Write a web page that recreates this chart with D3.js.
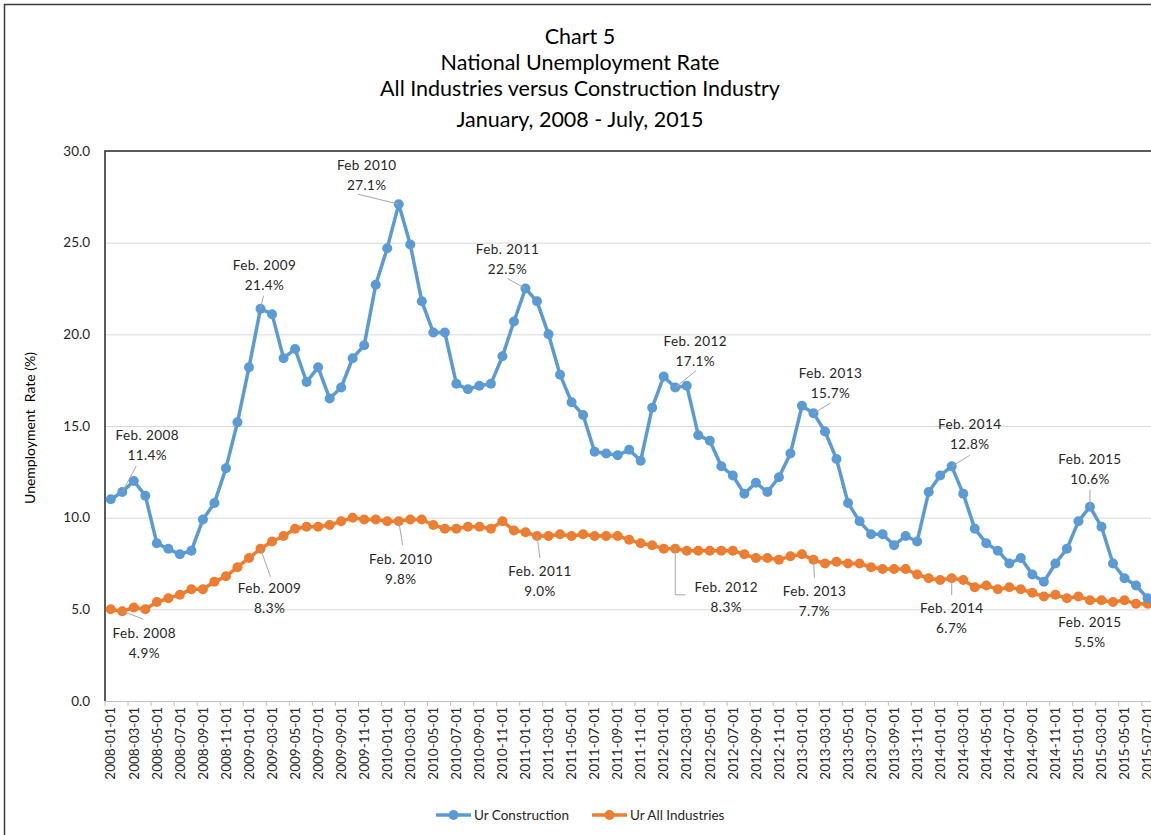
<!DOCTYPE html>
<html>
<head>
<meta charset="utf-8">
<script src="https://cdn.jsdelivr.net/npm/d3@7"></script>
<style>
  body { margin: 0; background: #fff; }
  svg { display: block; }
  text { font-family: Lato, "Open Sans", sans-serif; fill: #262626; }
</style>
</head>
<body>
<svg id="chart" width="1151" height="835"></svg>
<script>
// Monthly categories, January 2008 through July 2015
const months = d3.range(91).map(i => {
  const yr = 2008 + Math.floor(i / 12), mo = (i % 12) + 1;
  return `${yr}-${String(mo).padStart(2, "0")}-01`;
});

// Unemployment rate (%), construction industry
const construction = [
  11.0, 11.4, 12.0, 11.2, 8.6, 8.3, 8.0, 8.2, 9.9, 10.8, 12.7, 15.2,
  18.2, 21.4, 21.1, 18.7, 19.2, 17.4, 18.2, 16.5, 17.1, 18.7, 19.4, 22.7,
  24.7, 27.1, 24.9, 21.8, 20.1, 20.1, 17.3, 17.0, 17.2, 17.3, 18.8, 20.7,
  22.5, 21.8, 20.0, 17.8, 16.3, 15.6, 13.6, 13.5, 13.4, 13.7, 13.1, 16.0,
  17.7, 17.1, 17.2, 14.5, 14.2, 12.8, 12.3, 11.3, 11.9, 11.4, 12.2, 13.5,
  16.1, 15.7, 14.7, 13.2, 10.8, 9.8, 9.1, 9.1, 8.5, 9.0, 8.7, 11.4,
  12.3, 12.8, 11.3, 9.4, 8.6, 8.2, 7.5, 7.8, 6.9, 6.5, 7.5, 8.3,
  9.8, 10.6, 9.5, 7.5, 6.7, 6.3, 5.6
];

// Unemployment rate (%), all industries
const allIndustries = [
  5.0, 4.9, 5.1, 5.0, 5.4, 5.6, 5.8, 6.1, 6.1, 6.5, 6.8, 7.3,
  7.8, 8.3, 8.7, 9.0, 9.4, 9.5, 9.5, 9.6, 9.8, 10.0, 9.9, 9.9,
  9.8, 9.8, 9.9, 9.9, 9.6, 9.4, 9.4, 9.5, 9.5, 9.4, 9.8, 9.3,
  9.2, 9.0, 9.0, 9.1, 9.0, 9.1, 9.0, 9.0, 9.0, 8.8, 8.6, 8.5,
  8.3, 8.3, 8.2, 8.2, 8.2, 8.2, 8.2, 8.0, 7.8, 7.8, 7.7, 7.9,
  8.0, 7.7, 7.5, 7.6, 7.5, 7.5, 7.3, 7.2, 7.2, 7.2, 6.9, 6.7,
  6.6, 6.7, 6.6, 6.2, 6.3, 6.1, 6.2, 6.1, 5.9, 5.7, 5.8, 5.6,
  5.7, 5.5, 5.5, 5.4, 5.5, 5.3, 5.3
];

const yTicks = [0, 5, 10, 15, 20, 25, 30];
const titleLines = [
  "Chart 5",
  "National Unemployment Rate",
  "All Industries versus Construction Industry",
  "January, 2008 - July, 2015"
];
const seriesNames = ["Ur Construction", "Ur All Industries"];

// Callouts: month index and caption for each annotated point
const constructionNoteIdx = [1, 13, 25, 36, 49, 61, 73, 85];
const constructionNoteText = ["Feb. 2008", "Feb. 2009", "Feb 2010", "Feb. 2011", "Feb. 2012", "Feb. 2013", "Feb. 2014", "Feb. 2015"];
const allNoteIdx = [1, 13, 25, 37, 49, 61, 73, 85];
const allNoteText = ["Feb. 2008", "Feb. 2009", "Feb. 2010", "Feb. 2011", "Feb. 2012", "Feb. 2013", "Feb. 2014", "Feb. 2015"];

// ---- layout ----
const COLORS = ["#5B9BD5", "#ED7D31"];
const plot = { left: 105, top: 151, bottom: 701, step: 11.52 };
plot.right = plot.left + months.length * plot.step;

const svg = d3.select("#chart");

const x = d3.scaleBand().domain(months).range([plot.left, plot.right]).padding(0);
const y = d3.scaleLinear().domain([0, 30]).range([plot.bottom, plot.top]);
const cx = i => x(months[i]) + x.bandwidth() / 2;

// outer chart frame
svg.append("rect")
  .attr("x", 4.5).attr("y", 4.5).attr("width", 1300).attr("height", 1000)
  .attr("fill", "none").attr("stroke", "#3a3a3a").attr("stroke-width", 1.5);

// title
svg.append("g").selectAll("text").data(titleLines).join("text")
  .attr("x", 580).attr("y", (d, i) => [44, 70, 96, 127][i])
  .attr("text-anchor", "middle")
  .style("font-size", "21.5px").style("fill", "#000")
  .text(d => d);

// horizontal gridlines
svg.append("g")
  .attr("transform", `translate(${plot.left},0)`)
  .call(d3.axisLeft(y).tickValues(yTicks.slice(1, -1)).tickSize(-(plot.right - plot.left)).tickFormat(""))
  .call(g => g.select(".domain").remove())
  .call(g => g.selectAll("line").attr("stroke", "#d9d9d9").attr("stroke-width", 1));

// y axis labels
svg.append("g")
  .attr("transform", `translate(${plot.left},0)`)
  .call(d3.axisLeft(y).tickValues(yTicks).tickSize(0).tickPadding(15).tickFormat(d3.format(".1f")))
  .call(g => g.select(".domain").remove())
  .call(g => g.selectAll("text").style("font-size", "13.5px").style("fill", "#262626").style("font-family", "Lato, 'Open Sans', sans-serif"));

// x axis: category labels every second month
const xAxis = svg.append("g")
  .attr("transform", `translate(0,${plot.bottom})`)
  .call(d3.axisBottom(x).tickValues(months.filter((d, i) => i % 2 === 0)).tickSize(0).tickPadding(0))
  .call(g => g.select(".domain").attr("stroke", "#bfbfbf").attr("stroke-width", 1.2));
xAxis.selectAll("text")
  .attr("transform", "rotate(-90)")
  .attr("x", -6).attr("y", 0).attr("dy", "0.35em")
  .style("text-anchor", "end")
  .style("font-size", "13.5px").style("fill", "#262626")
  .style("font-family", "Lato, 'Open Sans', sans-serif");

// tick marks on category boundaries
svg.append("g").selectAll("line")
  .data(d3.range(0, months.length + 1, 2))
  .join("line")
  .attr("x1", i => plot.left + i * x.step()).attr("x2", i => plot.left + i * x.step())
  .attr("y1", plot.bottom).attr("y2", plot.bottom + 5)
  .attr("stroke", "#bfbfbf").attr("stroke-width", 1);

// plot area top and left border
svg.append("path")
  .attr("d", `M${plot.right + 20},${plot.top}H${plot.left}V${plot.bottom}`)
  .attr("fill", "none").attr("stroke", "#262626").attr("stroke-width", 1.5);

// y axis title
svg.append("text")
  .attr("transform", `translate(35,${(plot.top + plot.bottom) / 2 + 2}) rotate(-90)`)
  .attr("text-anchor", "middle")
  .style("font-size", "14px").style("fill", "#000")
  .text("Unemployment  Rate (%)")
  .attr("xml:space", "preserve").style("white-space", "pre");

// callout leaders and labels
// offsets (dx, dy) of caption centre, and leader end relative to the point
const constructionLayout = [
  { dx: 25, dy: -57, lead: [[14, -26]] },
  { dx: 4, dy: -44, lead: [[3, -13]] },
  { dx: -32, dy: -39, lead: [[-41, -10]] },
  { dx: -18, dy: -40, lead: [[-18, -10]] },
  { dx: 20, dy: -47, lead: [[21, -17]] },
  { dx: 17, dy: -40, lead: [[17, -10]] },
  { dx: 18, dy: -42, lead: [[18, -11]] },
  { dx: 0, dy: -48, lead: [[0, -17]] }
];
const allLayout = [
  { dx: 22, dy: 22, lead: [[21, 8]] },
  { dx: 9, dy: 39, lead: [[10, 28]] },
  { dx: 2, dy: 38, lead: [[4, 24]] },
  { dx: 3, dy: 35, lead: [[3, 22]] },
  { dx: 51, dy: 38, lead: [[0, 46], [10, 46]] },
  { dx: 1, dy: 31, lead: [[1, 18]] },
  { dx: 0, dy: 30, lead: [[0, 17]] },
  { dx: 0, dy: 22, lead: [] }
];

function notes(values, idx, text, layout) {
  const g = svg.append("g");
  idx.forEach((i, k) => {
    const px = cx(i), py = y(values[i]);
    const L = layout[k];
    if (L.lead.length) {
      const pts = [[px, py]].concat(L.lead.map(([a, b]) => [px + a, py + b]));
      g.append("path").attr("d", d3.line()(pts))
        .attr("fill", "none").attr("stroke", "#a6a6a6").attr("stroke-width", 1);
    }
    const t = g.append("text").attr("text-anchor", "middle")
      .style("font-size", "13.5px").style("letter-spacing", "0.4px").style("fill", "#262626");
    t.append("tspan").attr("x", px + L.dx).attr("y", py + L.dy + 5).text(text[k]);
    t.append("tspan").attr("x", px + L.dx).attr("y", py + L.dy + 25).text(d3.format(".1f")(values[i]) + "%");
  });
  return g;
}

// series lines and markers
function series(values, color) {
  const g = svg.append("g");
  g.append("path")
    .datum(values)
    .attr("d", d3.line().x((d, i) => cx(i)).y(d => y(d)))
    .attr("fill", "none").attr("stroke", color).attr("stroke-width", 3.5)
    .attr("stroke-linejoin", "round");
  g.selectAll("circle").data(values).join("circle")
    .attr("cx", (d, i) => cx(i)).attr("cy", d => y(d)).attr("r", 5)
    .attr("fill", color);
}
series(allIndustries, COLORS[1]);
series(construction, COLORS[0]);

notes(construction, constructionNoteIdx, constructionNoteText, constructionLayout);
notes(allIndustries, allNoteIdx, allNoteText, allLayout);

// legend
const legendPos = [436, 592];
const legend = svg.append("g").selectAll("g").data(seriesNames).join("g")
  .attr("transform", (d, i) => `translate(${legendPos[i]},815)`);
legend.append("line").attr("x1", 0).attr("x2", 35).attr("stroke", (d, i) => COLORS[i]).attr("stroke-width", 3.5);
legend.append("circle").attr("cx", 17.5).attr("r", 5).attr("fill", (d, i) => COLORS[i]);
legend.append("text").attr("x", 38).attr("dy", "0.35em")
  .style("font-size", "13.5px").style("fill", "#262626").text(d => d);
</script>
</body>
</html>
